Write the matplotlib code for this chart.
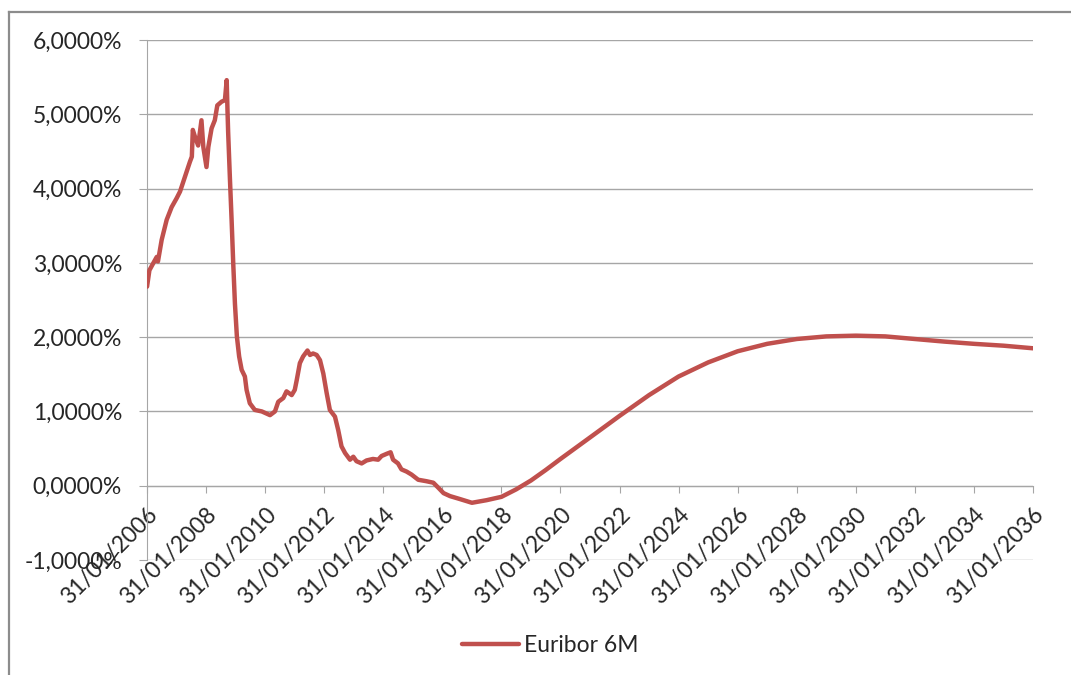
import matplotlib.pyplot as plt
import matplotlib.dates as mdates
from matplotlib.lines import Line2D
from matplotlib.ticker import FuncFormatter
import pandas as pd

# Euribor 6M: histórico y curva forward (en %)
fechas = [
    "2006-01-31", "2006-03-01", "2006-04-15", "2006-05-31", "2006-06-15", "2006-07-31",
    "2006-10-01", "2006-12-01", "2007-02-01", "2007-03-15", "2007-05-15", "2007-07-15",
    "2007-08-08", "2007-08-20", "2007-09-15", "2007-10-25", "2007-12-05", "2007-12-28",
    "2008-02-05", "2008-02-28", "2008-04-08", "2008-05-18", "2008-06-18", "2008-08-10",
    "2008-09-20", "2008-10-12", "2008-10-22", "2008-10-30", "2008-11-20", "2008-12-12",
    "2009-01-01", "2009-01-22", "2009-02-15", "2009-03-15", "2009-04-15", "2009-05-25",
    "2009-06-15", "2009-07-25", "2009-09-25", "2009-12-20", "2010-04-01", "2010-06-01",
    "2010-07-12", "2010-09-12", "2010-10-22", "2010-12-25", "2011-02-01", "2011-02-25",
    "2011-04-05", "2011-05-15", "2011-07-08", "2011-08-08", "2011-09-15", "2011-10-30",
    "2011-12-10", "2012-01-20", "2012-03-01", "2012-04-10", "2012-06-12", "2012-07-22",
    "2012-09-01", "2012-10-15", "2012-12-15", "2013-01-25", "2013-03-05", "2013-05-08",
    "2013-07-08", "2013-09-25", "2013-11-28", "2014-01-10", "2014-03-15", "2014-05-01",
    "2014-06-01", "2014-08-01", "2014-09-12", "2014-11-15", "2015-01-15", "2015-04-08",
    "2015-07-20", "2015-10-12", "2015-12-15", "2016-02-15", "2016-05-05", "2016-09-05",
    "2017-01-31", "2017-07-31", "2018-01-31", "2018-07-31", "2019-01-31", "2019-07-31",
    "2020-01-31", "2021-01-31", "2022-01-31", "2023-01-31", "2024-01-31", "2025-01-31",
    "2026-01-31", "2027-01-31", "2028-01-31", "2029-01-31", "2030-01-31", "2031-01-31",
    "2032-01-31", "2033-01-31", "2034-01-31", "2035-01-31", "2036-01-31",
]
euribor = [
    2.68, 2.90, 2.99, 3.08, 3.02, 3.31,
    3.58, 3.75, 3.87, 3.96, 4.16, 4.36,
    4.43, 4.79, 4.70, 4.58, 4.92, 4.56,
    4.29, 4.56, 4.81, 4.92, 5.12, 5.17,
    5.19, 5.46, 5.05, 4.76, 4.16, 3.57,
    2.99, 2.45, 2.01, 1.74, 1.56, 1.47,
    1.29, 1.11, 1.02, 1.00, 0.95, 1.00,
    1.13, 1.18, 1.27, 1.22, 1.29, 1.42,
    1.65, 1.74, 1.82, 1.76, 1.78, 1.76,
    1.69, 1.51, 1.25, 1.02, 0.93, 0.75,
    0.53, 0.44, 0.35, 0.39, 0.33, 0.30,
    0.34, 0.36, 0.35, 0.40, 0.43, 0.45,
    0.35, 0.30, 0.22, 0.19, 0.15, 0.08,
    0.06, 0.04, -0.03, -0.10, -0.14, -0.18,
    -0.23, -0.195, -0.15, -0.05, 0.07, 0.21,
    0.36, 0.65, 0.94, 1.22, 1.47, 1.66,
    1.81, 1.91, 1.975, 2.01, 2.02, 2.01,
    1.975, 1.94, 1.91, 1.885, 1.85,
]
marcas = pd.date_range("2006-01-31", "2036-01-31", freq="24ME")

plt.rcParams["font.family"] = ["Lato", "DejaVu Sans"]

fig = plt.figure(figsize=(10.71, 6.75), dpi=100)
ax = fig.add_axes([0.1373, 0.1704, 0.8272, 0.7703])

ax.plot(pd.to_datetime(fechas), euribor, color="#C0504D", lw=3.2,
        solid_capstyle="round", solid_joinstyle="round", label="Euribor 6M", zorder=3)

ax.set_ylim(-1, 6)
ax.set_yticks(range(-1, 7))
ax.yaxis.set_major_formatter(FuncFormatter(lambda v, p: f"{v:.4f}%".replace(".", ",")))
ax.grid(axis="y", color="#A6A6A6", lw=1.0)
ax.set_axisbelow(True)

ax.set_xlim(pd.Timestamp("2006-01-31"), pd.Timestamp("2036-01-31"))
ax.set_xticks(marcas)
ax.xaxis.set_major_formatter(mdates.DateFormatter("%d/%m/%Y"))

for s in ["top", "right"]:
    ax.spines[s].set_visible(False)
ax.spines["left"].set_color("#A6A6A6")
ax.spines["bottom"].set_color("#A6A6A6")
ax.spines["bottom"].set_position(("data", 0))

ax.tick_params(axis="y", length=6, color="#A6A6A6", pad=12, labelsize=16.5, labelcolor="#262626")
ax.tick_params(axis="x", length=5, color="#A6A6A6", pad=8, labelsize=16.5, labelcolor="#262626")
for lbl in ax.get_xticklabels():
    lbl.set_rotation(45)
    lbl.set_ha("right")
    lbl.set_va("top")
    lbl.set_rotation_mode("anchor")

fig.legend(loc="center", bbox_to_anchor=(0.5135, 0.044), frameon=False,
           fontsize=16.5, handlelength=2.5, handletextpad=0.2, labelcolor="#262626")

# marco del gráfico
fig.add_artist(Line2D([9 / 1071, 9 / 1071], [0, 1 - 12 / 675], color="#8C8C8C", lw=1.6))
fig.add_artist(Line2D([9 / 1071, 1], [1 - 12 / 675, 1 - 12 / 675], color="#8C8C8C", lw=1.6))

fig.savefig("out.png", dpi=100)
